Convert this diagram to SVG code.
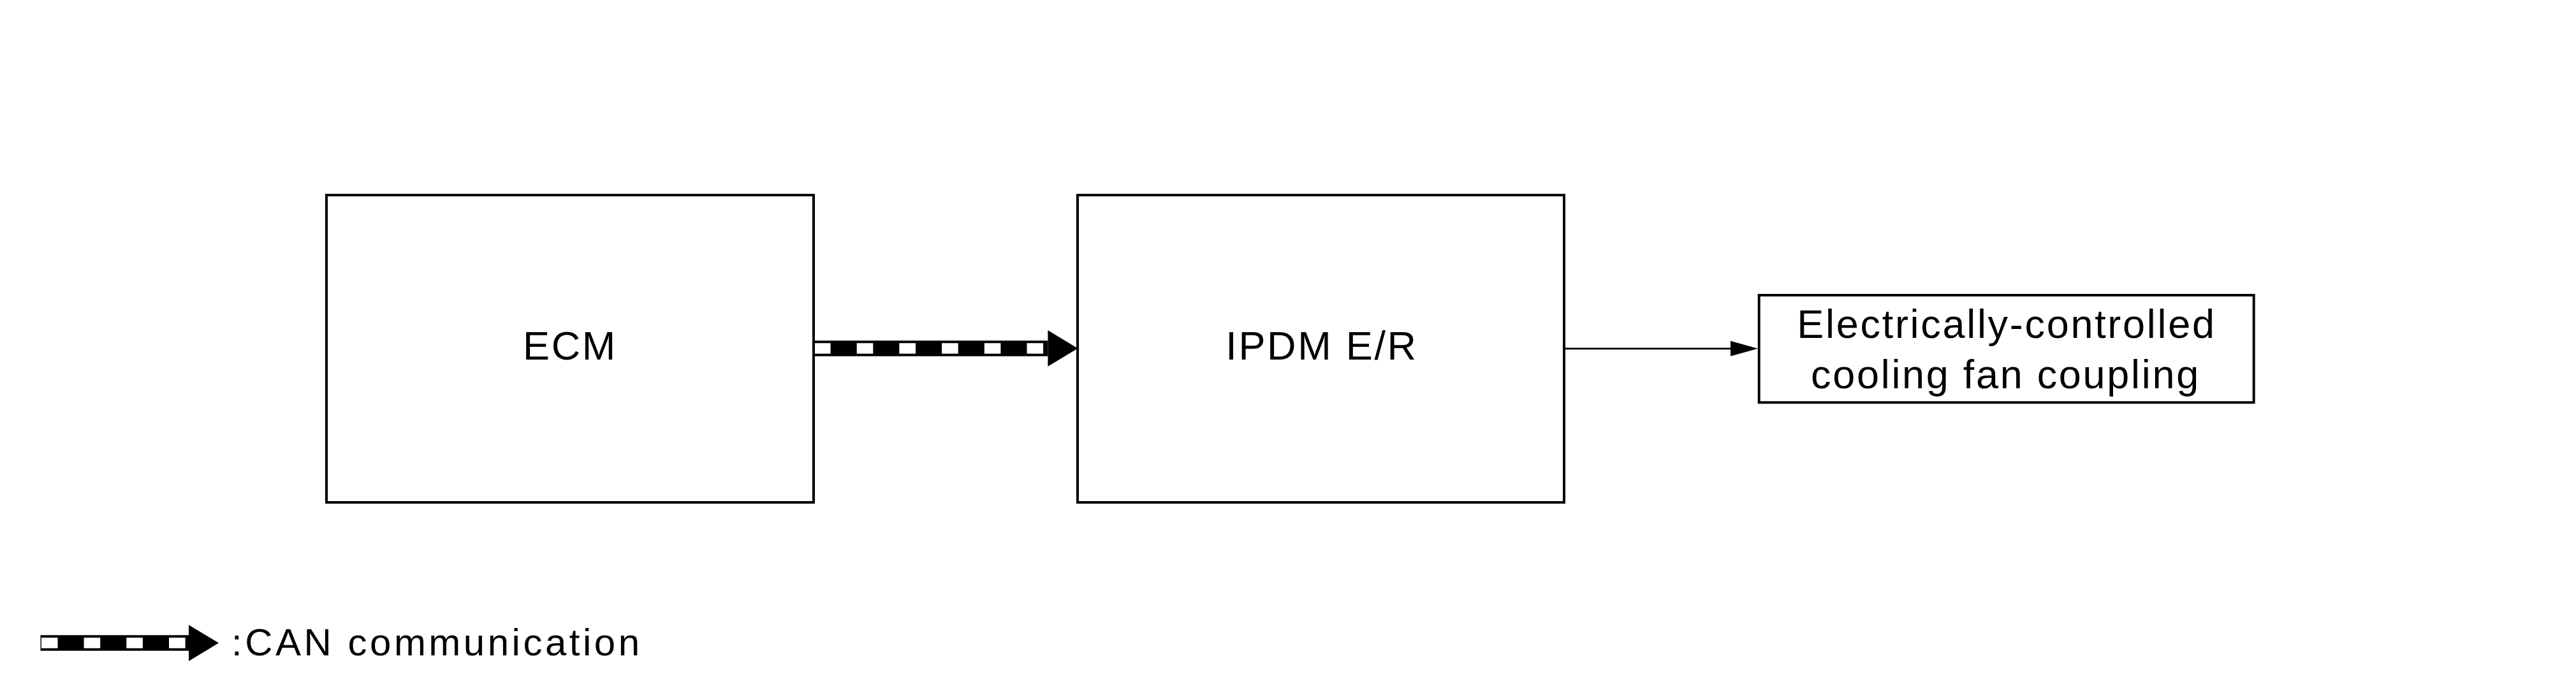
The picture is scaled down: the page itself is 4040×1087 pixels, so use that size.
<svg xmlns="http://www.w3.org/2000/svg" width="4040" height="1087" viewBox="0 0 4040 1087">
  <style>
    .box { fill: #fff; stroke: #000; stroke-width: 4; }
    .lbl { font-family: "Liberation Sans", Arial, sans-serif; font-size: 63px; letter-spacing: 2.7px; fill: #000; text-anchor: middle; }
    .legend-text { font-family: "Liberation Sans", Arial, sans-serif; font-size: 60px; letter-spacing: 4.5px; fill: #000; }
    .can-band { stroke: #000; stroke-width: 24.5; fill: none; }
    .can-dash { stroke: #fff; stroke-width: 16.5; fill: none; stroke-dasharray: 25.6 41.1; }
    .wire { stroke: #000; stroke-width: 2.8; fill: none; }
  </style>
  <defs>
    <marker id="canHead" markerUnits="userSpaceOnUse" markerWidth="48" markerHeight="58" refX="0" refY="28.3" orient="auto" overflow="visible">
      <path d="M0,0 L47,28.3 L0,56.6 Z" fill="#000"/>
    </marker>
    <marker id="head" markerUnits="userSpaceOnUse" markerWidth="45" markerHeight="25" refX="0" refY="12" orient="auto" overflow="visible">
      <path d="M0,0 L43,12 L0,24 Z" fill="#000"/>
    </marker>
  </defs>
  <rect x="0" y="0" width="4040" height="1087" fill="#fff"/>

  <g id="connectors">
    <g id="can-ecm-ipdm">
      <line class="can-band" x1="1276" y1="546.4" x2="1643.4" y2="546.4" marker-end="url(#canHead)"/>
      <line class="can-dash" x1="1277" y1="546.4" x2="1643" y2="546.4"/>
    </g>
    <g id="ipdm-fan">
      <line class="wire" x1="2453" y1="546.8" x2="2714" y2="546.8" marker-end="url(#head)"/>
    </g>
  </g>

  <g id="node-ecm">
    <rect class="box" x="512" y="306" width="764" height="482"/>
    <text class="lbl" x="894" y="564">ECM</text>
  </g>

  <g id="node-ipdm">
    <rect class="box" x="1690" y="306" width="763" height="482"/>
    <text class="lbl" x="2073" y="564">IPDM E/R</text>
  </g>

  <g id="node-fan">
    <rect class="box" x="2758.7" y="463" width="776" height="168.3"/>
    <text class="lbl" x="3147" y="530">Electrically-controlled</text>
    <text class="lbl" x="3145.5" y="609.3">cooling fan coupling</text>
  </g>

  <g id="legend">
    <line class="can-band" x1="63.5" y1="1008.6" x2="296" y2="1008.6" marker-end="url(#canHead)"/>
    <line class="can-dash" x1="64.9" y1="1008.6" x2="296" y2="1008.6"/>
    <text class="legend-text" x="363" y="1027.5">:CAN communication</text>
  </g>
</svg>
